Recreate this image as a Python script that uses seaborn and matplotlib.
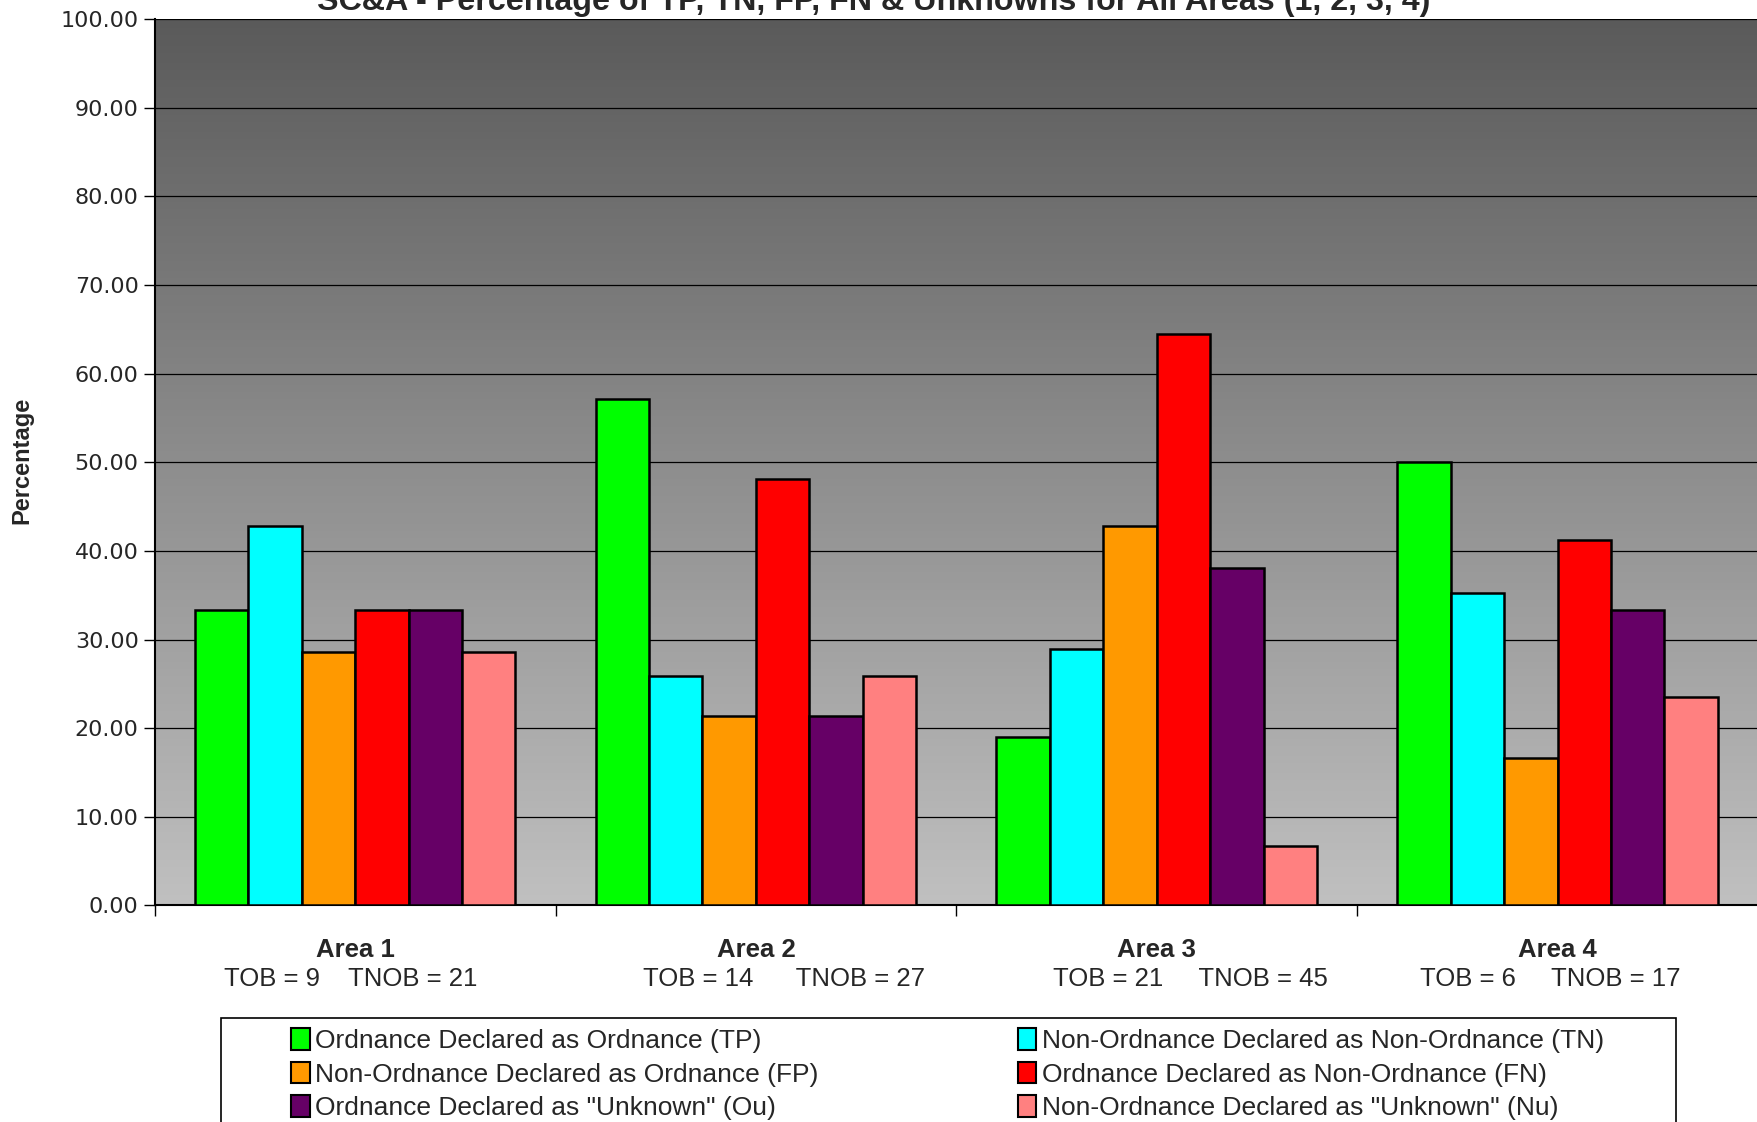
import numpy as np
import pandas as pd
import seaborn as sns
import matplotlib.pyplot as plt
from matplotlib.colors import LinearSegmentedColormap
from matplotlib.patches import Patch, Rectangle

# values
areas = ["Area 1", "Area 2", "Area 3", "Area 4"]
tob = [9, 14, 21, 6]
tnob = [21, 27, 45, 17]
tp = [33.33, 57.14, 19.05, 50.00]
tn = [42.86, 25.93, 28.89, 35.29]
fp = [28.57, 21.43, 42.86, 16.67]
fn = [33.33, 48.15, 64.44, 41.18]
ou = [33.33, 21.43, 38.10, 33.33]
nu = [28.57, 25.93, 6.67, 23.53]

series = ["Ordnance Declared as Ordnance (TP)",
          "Non-Ordnance Declared as Non-Ordnance (TN)",
          "Non-Ordnance Declared as Ordnance (FP)",
          "Ordnance Declared as Non-Ordnance (FN)",
          "Ordnance Declared as \"Unknown\" (Ou)",
          "Non-Ordnance Declared as \"Unknown\" (Nu)"]
colors = ["#00ff00", "#00ffff", "#ff9900", "#ff0000", "#660066", "#ff8080"]

rows = []
for name, vals in zip(series, [tp, tn, fp, fn, ou, nu]):
    for a, v in zip(areas, vals):
        rows.append({"Area": a, "Series": name, "Percentage": v})
df = pd.DataFrame(rows)

sns.set_style("white")
plt.rcParams['font.family'] = ['Liberation Sans', 'DejaVu Sans']

fig = plt.figure(figsize=(17.58, 11.22), dpi=100)
ax = fig.add_axes([0.088, 0.193, 0.912, 0.790])

# gray gradient plot background
cmap_bg = LinearSegmentedColormap.from_list("bg", ["#5a5a5a", "#c0c0c0"])
ax.imshow(np.linspace(0, 1, 256).reshape(-1, 1), extent=[0, 1, 0, 1],
          transform=ax.transAxes, aspect='auto', cmap=cmap_bg, zorder=0)

sns.barplot(data=df, x="Area", y="Percentage", hue="Series", hue_order=series,
            palette=colors, width=0.8, edgecolor="black", linewidth=1.8,
            saturation=1, errorbar=None, legend=False, ax=ax, zorder=3)

ax.set_xlim(-0.5, 3.5)
ax.set_ylim(0, 100)
ax.set_yticks(np.arange(0, 101, 10))
ax.set_yticklabels([f"{v:.2f}" for v in np.arange(0, 101, 10)],
                   fontsize=16, family='DejaVu Sans')
ax.yaxis.grid(True, color="black", linewidth=0.9, zorder=1)
ax.set_axisbelow(True)
for s in ["top", "right"]:
    ax.spines[s].set_visible(False)
ax.spines["left"].set_color("black")
ax.spines["bottom"].set_color("black")
ax.spines["left"].set_linewidth(1.5)
ax.spines["bottom"].set_linewidth(1.5)
ax.tick_params(axis='y', length=8, color='black', width=1, direction='out', left=True)

# ticks at category boundaries, labels centred
ax.set_xticks(np.arange(-0.5, 3.6, 1), minor=True)
ax.set_xticks(range(len(areas)))
ax.set_xticklabels([])
ax.tick_params(axis='x', which='major', length=0)
ax.tick_params(axis='x', which='minor', length=8, color='black', width=1, direction='out', bottom=True)
ax.set_xlabel("")
ax.set_ylabel("")

gaps = ["    ", "      ", "     ", "     "]
shift = [-3, 20, 24, -5]
for i, a in enumerate(areas):
    ax.annotate(a, (i, 0), xycoords=('data', 'axes fraction'), xytext=(0, -32),
                textcoords='offset points', ha='center', va='center',
                fontsize=18.5, fontweight='bold')
    ax.annotate(f"TOB = {tob[i]}{gaps[i]}TNOB = {tnob[i]}", (i, 0),
                xycoords=('data', 'axes fraction'), xytext=(shift[i], -53),
                textcoords='offset points', ha='center', va='center', fontsize=18.5)

fig.text(0.0125, 0.59, "Percentage", rotation=90, ha='center', va='center',
         fontsize=17, fontweight='bold')

fig.text(0.497, 0.991, "SC&A - Percentage of TP, TN, FP, FN & Unknowns for All Areas (1, 2, 3, 4)",
         ha='center', va='baseline', fontsize=23.2, fontweight='bold')

# legend frame, running off the bottom edge like the reference
fig.add_artist(Rectangle((0.1257, -0.05), 0.9534 - 0.1257, 0.0927 + 0.05,
                         transform=fig.transFigure, facecolor='white',
                         edgecolor='black', linewidth=1.2, clip_on=False))

left_idx = [0, 2, 4]
right_idx = [1, 3, 5]
for idx, x0 in [(left_idx, 0.1658), (right_idx, 0.579)]:
    handles = [Patch(facecolor=colors[k], edgecolor='black', linewidth=1.5) for k in idx]
    labels = [series[k] for k in idx]
    fig.legend(handles, labels, ncol=1, loc='upper left',
               bbox_to_anchor=(x0, 0.084), frameon=False,
               fontsize=19, handlelength=0.7, handleheight=0.9, handletextpad=0.2,
               labelspacing=0.33, borderpad=0, borderaxespad=0)

fig.savefig("out.png", dpi=100)
